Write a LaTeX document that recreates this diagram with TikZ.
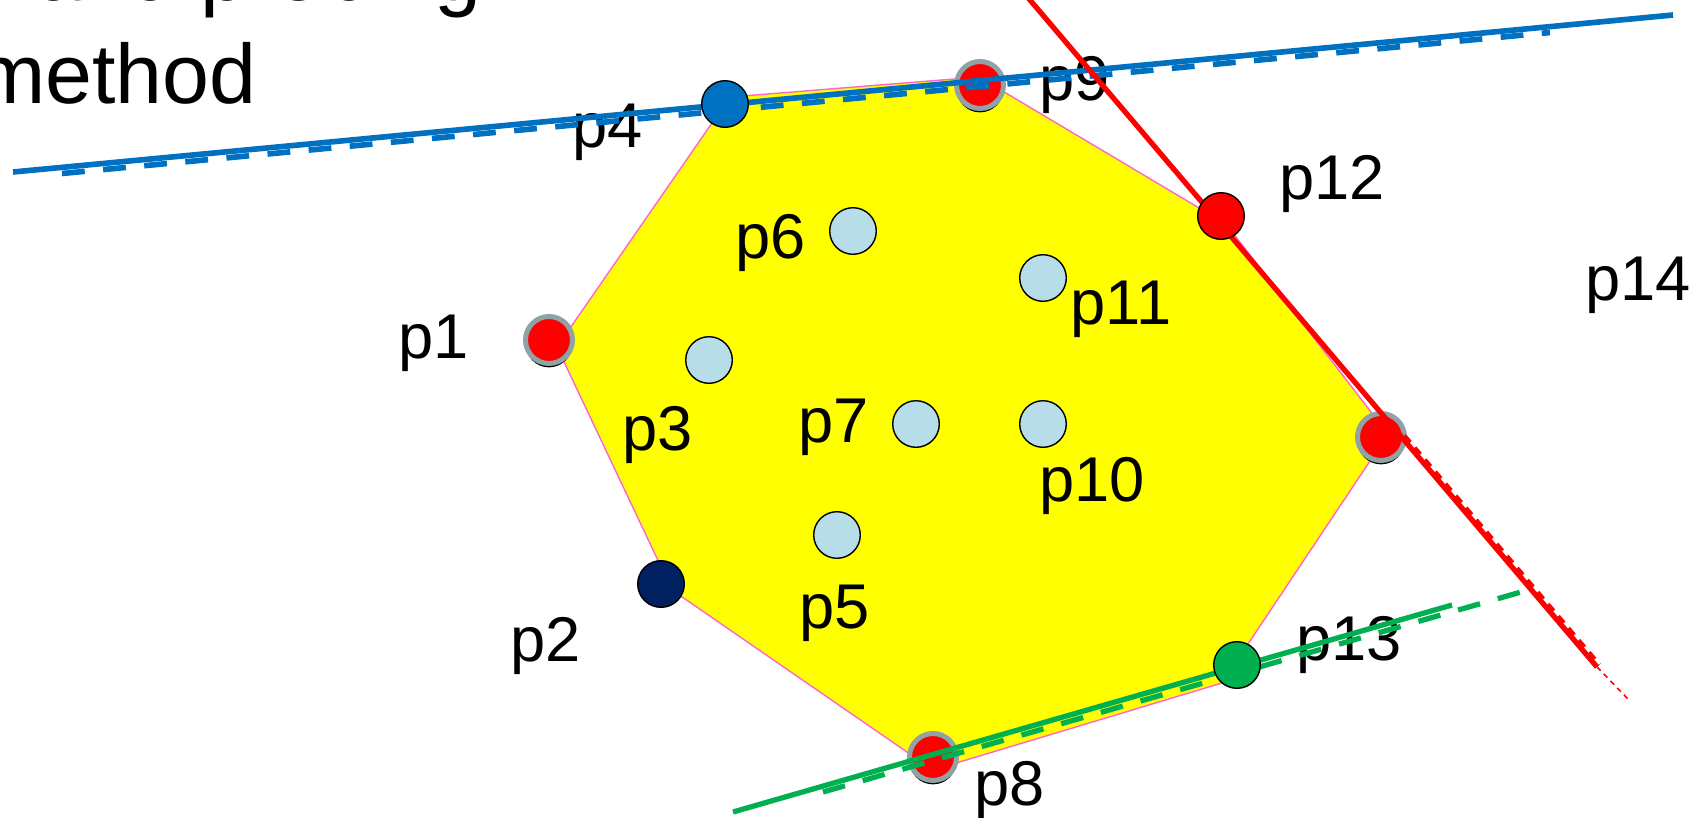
\documentclass[tikz,border=0pt]{standalone}
\usepackage{fontspec}
\setmainfont{Liberation Sans}
\usetikzlibrary{shadows}
\definecolor{hullyellow}{HTML}{FFFF00}
\definecolor{hulledge}{HTML}{FF66CC}
\definecolor{probeblue}{HTML}{0070C0}
\definecolor{probered}{HTML}{FF0000}
\definecolor{probegreen}{HTML}{00B050}
\definecolor{darknavy}{HTML}{002060}
\definecolor{innerblue}{HTML}{B7DEE8}
\definecolor{ringgray}{HTML}{8FA3A6}

\begin{document}
\begin{tikzpicture}[x=0.02cm, y=-0.02cm,
    plaindot/.style={circle, draw=black, line width=0.8pt, minimum size=0.932cm, inner sep=0pt},
    ringdot/.style={circle, draw=ringgray, fill=probered, line width=2.85pt, minimum size=0.94cm, inner sep=0pt,
      drop shadow={shadow xshift=0pt, shadow yshift=-2.2pt, fill=black, opacity=1}},
    plabel/.style={anchor=base west, inner sep=0pt, font=\fontsize{36}{43}\selectfont},
    titletext/.style={anchor=base west, inner sep=0pt, font=\fontsize{48}{58}\selectfont},
    probeline/.style={line width=3.2pt},
    probedash/.style={line width=3.2pt, dash pattern=on 13pt off 10.5pt}]
  \useasboundingbox (0,0) rectangle (1704,818);

  % Title
  \node[titletext] (title1) at (-25,1) {Hand probing};
  \node[titletext] (title2) at (-25,103) {method};

  % Convex hull
  \filldraw[fill=hullyellow, draw=hulledge, line width=0.8pt]
    (557,347) -- (730,97) -- (979,77) -- (1226,224) -- (1388,434)
    -- (1222,683) -- (933,770) -- (672,590) -- cycle;

  % Hull points with grey ring
  \node[ringdot] (p1) at (549,340) {};
  \node[ringdot] (p9) at (980,85) {};
  \node[ringdot] (p14) at (1381,437) {};
  \node[ringdot] (p8) at (933,757) {};

  % Labels
  \node[plabel] (l1) at (398,358) {p1};
  \node[plabel] (l2) at (510,661) {p2};
  \node[plabel] (l3) at (622,450) {p3};
  \node[plabel] (l4) at (572,147) {p4};
  \node[plabel] (l5) at (799,628) {p5};
  \node[plabel] (l6) at (735,258) {p6};
  \node[plabel] (l7) at (798,442) {p7};
  \node[plabel] (l8) at (974,805) {p8};
  \node[plabel] (l9) at (1039,100) {p9};
  \node[plabel] (l10) at (1039,501) {p10};
  \node[plabel] (l11) at (1070,324) {p11};
  \node[plabel] (l12) at (1279,199) {p12};
  \node[plabel] (l13) at (1296,660) {p13};
  \node[plabel] (l14) at (1585,300) {p14};

  % Blue probe line
  \coordinate (blueA) at (13,172);
  \coordinate (blueB) at (1673,15);
  \coordinate (blueC) at (62,173.5);
  \coordinate (blueD) at (1550,32.5);
  \draw[probeline, probeblue] (blueA) -- (blueB);
  \draw[probedash, probeblue] (blueC) -- (blueD);

  % Red probe line
  \coordinate (redA) at (1021.5,-10);
  \coordinate (redB) at (1597,667);
  \coordinate (redC) at (1628,699);
  \coordinate (redD) at (1404,436);
  \coordinate (redE) at (1599,665);
  \draw[probeline, probered, line width=3pt] (redA) -- (redB);
  \draw[probered, line width=3pt, dash pattern=on 5pt off 4pt] (redD) -- (redE);
  \draw[probered, line width=0.9pt, dash pattern=on 3pt off 2.5pt] (redB) -- (redC);

  % Green probe line
  \coordinate (greenA) at (733,812);
  \coordinate (greenB) at (1452,605);
  \coordinate (greenC) at (823,792);
  \coordinate (greenD) at (1528,590);
  \draw[probeline, probegreen, line width=3pt] (greenA) -- (greenB);
  \draw[probedash, probegreen, line width=3pt] (greenC) -- (greenD);

  % Remaining points
  \node[plaindot, fill=probeblue] (p4) at (725,104) {};
  \node[plaindot, fill=probered] (p12) at (1221,216) {};
  \node[plaindot, fill=probegreen] (p13) at (1237,665) {};
  \node[plaindot, fill=darknavy] (p2) at (661,584) {};
  \node[plaindot, fill=innerblue] (p3) at (709,360) {};
  \node[plaindot, fill=innerblue] (p5) at (837,535) {};
  \node[plaindot, fill=innerblue] (p6) at (853,231) {};
  \node[plaindot, fill=innerblue] (p7) at (916,424) {};
  \node[plaindot, fill=innerblue] (p10) at (1043,424) {};
  \node[plaindot, fill=innerblue] (p11) at (1043,278) {};
\end{tikzpicture}
\end{document}
